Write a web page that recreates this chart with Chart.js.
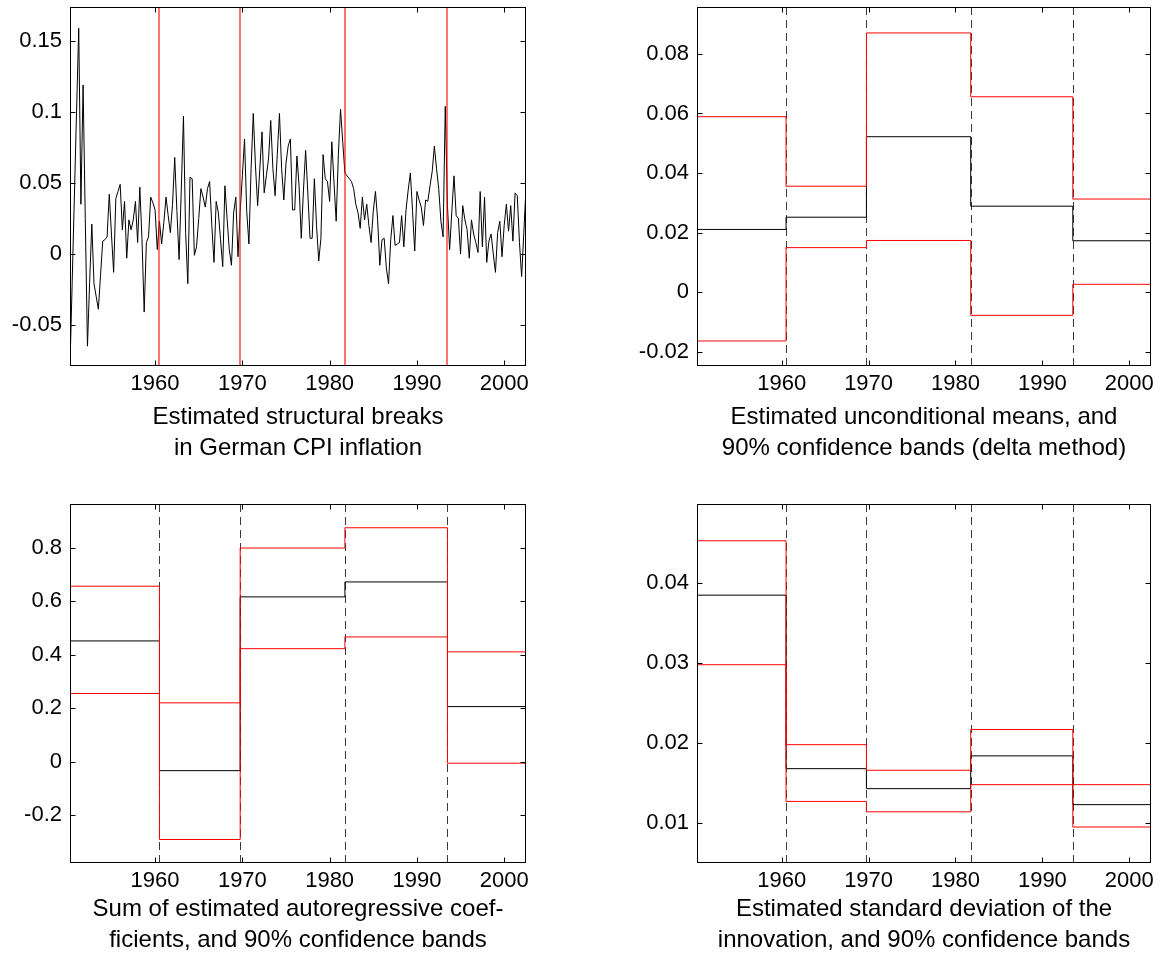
<!DOCTYPE html>
<html><head><meta charset="utf-8">
<script src="https://cdn.jsdelivr.net/npm/chart.js@4"></script>
<style>
html,body{margin:0;padding:0;background:#fff;}
#wrap{position:relative;width:1163px;height:960px;}
canvas{position:absolute;}
</style></head><body>
<div id="wrap">
<canvas id="c1" width="581" height="480" style="left:0;top:0"></canvas>
<canvas id="c2" width="582" height="480" style="left:581px;top:0"></canvas>
<canvas id="c3" width="581" height="480" style="left:0;top:480px"></canvas>
<canvas id="c4" width="582" height="480" style="left:581px;top:480px"></canvas>
</div>
<script>
// ---- data ----
const sampleStart = 1950.25, sampleEnd = 2002.5, periodsPerYear = 4;
const breakDates = [1960.5, 1969.75, 1981.75, 1993.5];
const inflation = [
 -0.079, -0.020, 0.040, 0.100, 0.159, 0.035, 0.119, 0.025, -0.065, -0.020,
 0.021, -0.021, -0.030, -0.039, -0.015, 0.009, 0.010, 0.012, 0.042, 0.014,
 -0.013, 0.039, 0.044, 0.049, 0.017, 0.037, -0.003, 0.024, 0.017, 0.024,
 0.037, 0.008, 0.047, 0.010, -0.041, 0.008, 0.012, 0.040, 0.036, 0.031,
 0.003, 0.023, 0.007, 0.022, 0.040, 0.027, 0.015, 0.035, 0.068, 0.030,
 -0.004, 0.045, 0.097, 0.015, -0.021, 0.054, 0.053, -0.001, 0.005, 0.025,
 0.046, 0.040, 0.033, 0.046, 0.051, 0.020, -0.006, 0.037, 0.029, 0.010,
 -0.009, 0.048, 0.025, 0.003, -0.008, 0.029, 0.040, -0.002, 0.030, 0.055,
 0.081, 0.030, 0.007, 0.060, 0.099, 0.062, 0.034, 0.060, 0.086, 0.043,
 0.055, 0.067, 0.094, 0.060, 0.041, 0.070, 0.099, 0.060, 0.038, 0.064,
 0.076, 0.081, 0.031, 0.031, 0.069, 0.048, 0.011, 0.045, 0.073, 0.043,
 0.011, 0.011, 0.053, 0.020, -0.005, 0.011, 0.070, 0.053, 0.051, 0.037,
 0.079, 0.050, 0.023, 0.070, 0.102, 0.079, 0.057, 0.055, 0.053, 0.051,
 0.046, 0.035, 0.029, 0.018, 0.040, 0.024, 0.035, 0.020, 0.008, 0.030,
 0.044, 0.024, -0.008, 0.010, 0.011, -0.010, -0.021, 0.010, 0.027, 0.006,
 0.007, 0.008, 0.027, 0.005, 0.031, 0.045, 0.057, 0.030, 0.002, 0.044,
 0.038, 0.033, 0.020, 0.038, 0.037, 0.048, 0.058, 0.076, 0.060, 0.046,
 0.023, 0.012, 0.104, 0.034, 0.003, 0.030, 0.055, 0.027, 0.025, 0.000,
 0.034, 0.024, 0.017, -0.003, 0.024, 0.014, 0.008, 0.001, 0.044, 0.005,
 0.040, -0.006, 0.009, 0.014, 0.000, -0.013, 0.015, 0.023, -0.002, 0.020,
 0.035, 0.016, 0.034, 0.009, 0.043, 0.041, 0.008, -0.016, 0.015, 0.047
];
const meanEst = [0.0211, 0.0252, 0.0522, 0.0289, 0.0173];
const meanLo  = [-0.0163, 0.0150, 0.0174, -0.0077, 0.0027];
const meanHi  = [0.0589, 0.0356, 0.0870, 0.0656, 0.0313];
const arSum = [0.452, -0.034, 0.617, 0.673, 0.206];
const arLo  = [0.255, -0.292, 0.423, 0.467, -0.006];
const arHi  = [0.657, 0.220, 0.800, 0.876, 0.411];
const sdEst = [0.0385, 0.0168, 0.0143, 0.0184, 0.0123];
const sdLo  = [0.0298, 0.0127, 0.0114, 0.0148, 0.0095];
const sdHi  = [0.0453, 0.0198, 0.0166, 0.0217, 0.0148];

const xTicks = [1960, 1970, 1980, 1990, 2000];
const xTickLabels = ['1960', '1970', '1980', '1990', '2000'];
const yTicksInfl = [-0.05, 0, 0.05, 0.1, 0.15];
const yLabelsInfl = ['-0.05', '0', '0.05', '0.1', '0.15'];
const yTicksMean = [-0.02, 0, 0.02, 0.04, 0.06, 0.08];
const yLabelsMean = ['-0.02', '0', '0.02', '0.04', '0.06', '0.08'];
const yTicksAr = [-0.2, 0, 0.2, 0.4, 0.6, 0.8];
const yLabelsAr = ['-0.2', '0', '0.2', '0.4', '0.6', '0.8'];
const yTicksSd = [0.01, 0.02, 0.03, 0.04];
const yLabelsSd = ['0.01', '0.02', '0.03', '0.04'];

const captions = {
  infl: ['Estimated structural breaks', 'in German CPI inflation'],
  mean: ['Estimated unconditional means, and', '90% confidence bands (delta method)'],
  ar:   ['Sum of estimated autoregressive coef-', 'ficients, and 90% confidence bands'],
  sd:   ['Estimated standard deviation of the', 'innovation, and 90% confidence bands']
};

// ---- helpers ----
const FONT = 'Liberation Sans, Arial, Helvetica, sans-serif';
Chart.defaults.color = '#000';
Chart.defaults.font.family = FONT;

function stepData(vals) {
  const xs = [sampleStart, ...breakDates, sampleEnd];
  return xs.map((xv, i) => ({x: xv, y: vals[Math.min(i, vals.length - 1)]}));
}
function stepSet(vals, color) {
  return {data: stepData(vals), borderColor: color, borderWidth: 1, stepped: true,
          pointRadius: 0, fill: false, tension: 0};
}

function drawBreaks(chart, o) {
  const {ctx, chartArea: a, scales: {x}} = chart;
  ctx.save();
  ctx.strokeStyle = o.color; ctx.lineWidth = o.width; ctx.setLineDash(o.dash || []);
  breakDates.forEach(d => {
    const px = Math.round(x.getPixelForValue(d)) + o.offset;
    ctx.beginPath(); ctx.moveTo(px, a.top); ctx.lineTo(px, a.bottom); ctx.stroke();
  });
  ctx.restore();
}

const framePlugin = {
  id: 'frame',
  beforeDatasetsDraw(chart, args, o) { if (o.breaks && !o.breaksOnTop) drawBreaks(chart, o.breaks); },
  afterDatasetsDraw(chart, args, o) { if (o.breaks && o.breaksOnTop) drawBreaks(chart, o.breaks); },
  afterDraw(chart) {
    const {ctx, chartArea: a, scales: {x, y}} = chart;
    ctx.save();
    ctx.strokeStyle = '#000'; ctx.lineWidth = 1; ctx.setLineDash([]);
    const L = Math.round(a.left) + 0.5, R = Math.round(a.right) - 0.5;
    const T = Math.round(a.top) + 0.5, B = Math.round(a.bottom) - 0.5;
    ctx.strokeRect(L, T, R - L, B - T);
    const tl = 5;
    ctx.beginPath();
    x.ticks.forEach(t => {
      const px = Math.round(x.getPixelForValue(t.value)) + 0.5;
      ctx.moveTo(px, B); ctx.lineTo(px, B - tl); ctx.moveTo(px, T); ctx.lineTo(px, T + tl);
    });
    y.ticks.forEach(t => {
      const py = Math.round(y.getPixelForValue(t.value)) + 0.5;
      ctx.moveTo(L, py); ctx.lineTo(L + tl, py); ctx.moveTo(R, py); ctx.lineTo(R - tl, py);
    });
    ctx.stroke();
    ctx.restore();
  }
};

function makePanel(id, cfg) {
  new Chart(document.getElementById(id), {
    type: 'line',
    data: {datasets: cfg.datasets},
    plugins: [framePlugin],
    options: {
      responsive: false, animation: false, devicePixelRatio: 1,
      layout: {padding: cfg.padding},
      plugins: {legend: {display: false}, tooltip: {enabled: false},
                frame: {breaks: cfg.breaks, breaksOnTop: cfg.breaksOnTop}},
      elements: {point: {radius: 0}, line: {tension: 0}},
      scales: {
        x: {
          type: 'linear', position: 'bottom', min: sampleStart, max: sampleEnd,
          grid: {display: false, drawTicks: false}, border: {display: false},
          afterBuildTicks: s => { s.ticks = xTicks.map(v => ({value: v})); },
          ticks: {padding: 5, maxRotation: 0, autoSkip: false, font: {size: 22, family: FONT},
                  callback: (v) => xTickLabels[xTicks.indexOf(v)]},
          title: {display: true, text: cfg.caption, color: '#000',
                  font: {size: 24, family: FONT, lineHeight: '31px'},
                  padding: {top: 0, bottom: cfg.capPad}},
          afterFit: s => { s.height = cfg.xH; s.paddingLeft = 0; s.paddingRight = 0; }
        },
        y: {
          type: 'linear', position: 'left', min: cfg.yMin, max: cfg.yMax,
          grid: {display: false, drawTicks: false}, border: {display: false},
          afterBuildTicks: s => { s.ticks = cfg.yTicks.map(v => ({value: v})); },
          ticks: {padding: 8, autoSkip: false, font: {size: 22, family: FONT},
                  callback: (v) => cfg.yLabels[cfg.yTicks.indexOf(v)]},
          afterFit: s => { s.width = cfg.yW; s.paddingTop = 0; s.paddingBottom = 0; }
        }
      }
    }
  });
}

const dashed = {color: '#3a3a3a', width: 1, dash: [8, 5], offset: 0.5};

makePanel('c1', {
  datasets: [{data: inflation.map((v, i) => ({x: sampleStart + i / periodsPerYear, y: v})),
              borderColor: '#000', borderWidth: 1, pointRadius: 0, fill: false}],
  yMin: -0.079, yMax: 0.174, yTicks: yTicksInfl, yLabels: yLabelsInfl,
  caption: captions.infl, padding: {top: 7, left: 0, right: 55, bottom: 0},
  yW: 70, xH: 114, capPad: 16.5,
  breaks: {color: 'rgba(255,0,0,0.85)', width: 1.3, dash: [], offset: 0}, breaksOnTop: true
});
makePanel('c2', {
  datasets: [stepSet(meanLo, '#ff0000'), stepSet(meanHi, '#ff0000'), stepSet(meanEst, '#000')],
  yMin: -0.0247, yMax: 0.0957, yTicks: yTicksMean, yLabels: yLabelsMean,
  caption: captions.mean, padding: {top: 7, left: 0, right: 12, bottom: 0},
  yW: 116, xH: 114, capPad: 16.5, breaks: dashed, breaksOnTop: false
});
makePanel('c3', {
  datasets: [stepSet(arLo, '#ff0000'), stepSet(arHi, '#ff0000'), stepSet(arSum, '#000')],
  yMin: -0.38, yMax: 0.965, yTicks: yTicksAr, yLabels: yLabelsAr,
  caption: captions.ar, padding: {top: 24, left: 0, right: 55, bottom: 0},
  yW: 70, xH: 97, capPad: 4.5, breaks: dashed, breaksOnTop: false
});
makePanel('c4', {
  datasets: [stepSet(sdLo, '#ff0000'), stepSet(sdHi, '#ff0000'), stepSet(sdEst, '#000')],
  yMin: 0.005, yMax: 0.0499, yTicks: yTicksSd, yLabels: yLabelsSd,
  caption: captions.sd, padding: {top: 24, left: 0, right: 12, bottom: 0},
  yW: 116, xH: 97, capPad: 4.5, breaks: dashed, breaksOnTop: false
});
</script>
</body></html>
